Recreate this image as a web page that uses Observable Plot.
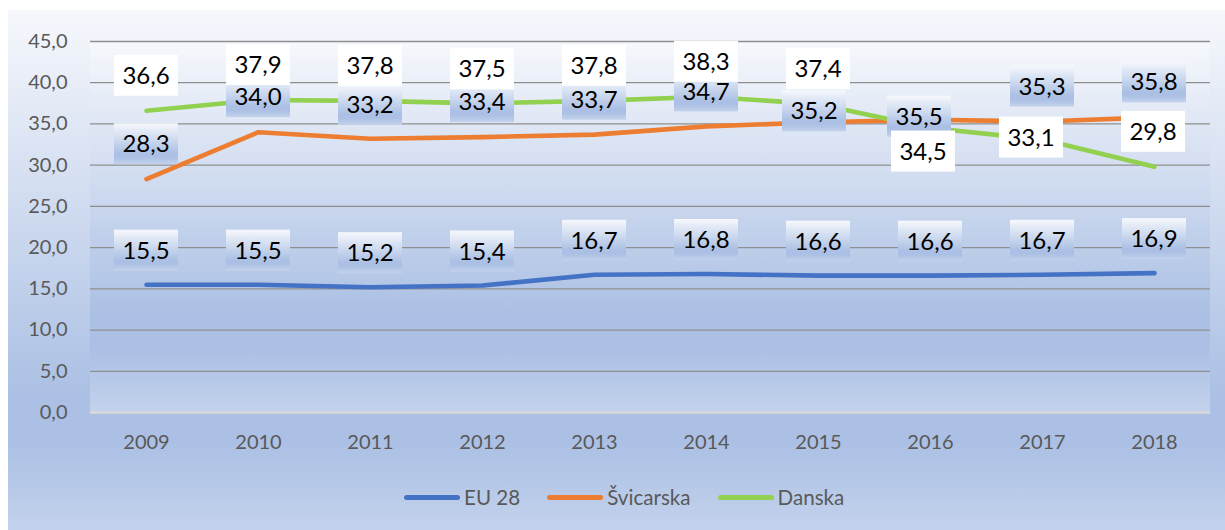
<!DOCTYPE html>
<html><head><meta charset="utf-8">
<script src="https://cdn.jsdelivr.net/npm/d3@7"></script>
<script src="https://cdn.jsdelivr.net/npm/@observablehq/plot@0.6"></script>
<style>
body{margin:0;background:#fff;}
#wrap{position:relative;width:1225px;height:530px;overflow:hidden;font-family:Lato,sans-serif;}
#bg{position:absolute;left:8px;top:10px;width:1217px;height:520px;background:linear-gradient(to bottom,#f6f8fc 0%,#abc0e4 74%,#abc0e4 83%,#c3d2ec 100%);}
#chart{position:absolute;left:0;top:0;}
#legend{position:absolute;top:484px;left:404px;height:26px;display:flex;align-items:center;font-size:20.6px;color:#595959;white-space:nowrap;}
.item{display:flex;align-items:center;margin-right:27px}
.sw{width:56px;height:5px;border-radius:3px;margin-right:4px}
</style></head>
<body><div id="wrap"><div id="bg"></div><div id="chart"></div><div id="legend"></div></div>
<script>
// ---- data ----
const years = ["2009","2010","2011","2012","2013","2014","2015","2016","2017","2018"];
const eu28 = [15.5,15.5,15.2,15.4,16.7,16.8,16.6,16.6,16.7,16.9];
const svicarska = [28.3,34.0,33.2,33.4,33.7,34.7,35.2,35.5,35.3,35.8];
const danska = [36.6,37.9,37.8,37.5,37.8,38.3,37.4,34.5,33.1,29.8];
const seriesNames = ["EU 28","Švicarska","Danska"];
const yTicks = [0,5,10,15,20,25,30,35,40,45];

// ---- label placement (pixel offsets from the point) ----
const euLabelOffsets = years.map(() => [0,-34]);
const svLabelOffsets = [[0,-35],[0,-35],[0,-34],[0,-35],[0,-35],[0,-35],[-4,-11],[-11,-3],[0,-35],[0,-35]];
const dkLabelOffsets = [[0,-35],[0,-35],[0,-35],[0,-34],[0,-35],[0,-35],[0,-35],[-7,23.5],[-11,-2],[-1,-35]];

const fmt = d => d.toFixed(1).replace(".", ",");
const stops = [[0,"#f6f8fc"],[0.74,"#abc0e4"],[0.83,"#abc0e4"],[1,"#c3d2ec"]];

const series = [
  {name: seriesNames[0], values: eu28, color: "#4472C4", box: "url(#boxGrad)", offsets: euLabelOffsets},
  {name: seriesNames[1], values: svicarska, color: "#ED7D31", box: "url(#boxGrad)", offsets: svLabelOffsets},
  {name: seriesNames[2], values: danska, color: "#92D050", box: "#ffffff", offsets: dkLabelOffsets}
];

const rows = [];
series.forEach(s => s.values.forEach((v, i) => rows.push({year: years[i], value: v, series: s.name})));

function plotBackground(index, scales, values, dims) {
  const g = d3.create("svg:g");
  const defs = g.append("defs");
  for (const id of ["areaGrad","boxGrad"]) {
    const lg = defs.append("linearGradient").attr("id", id).attr("x1",0).attr("y1",0).attr("x2",0).attr("y2",1);
    stops.forEach(([o,c]) => lg.append("stop").attr("offset", o).attr("stop-color", c));
  }
  g.append("rect")
    .attr("x", dims.marginLeft).attr("y", dims.marginTop)
    .attr("width", dims.width - dims.marginLeft - dims.marginRight)
    .attr("height", dims.height - dims.marginTop - dims.marginBottom)
    .attr("fill", "url(#areaGrad)");
  return g.node();
}

function labelMark(s) {
  return (index, scales) => {
    const g = d3.create("svg:g");
    s.values.forEach((v, i) => {
      const [dx, dy] = s.offsets[i];
      const cx = scales.x(years[i]) + dx, cy = scales.y(v) + dy;
      g.append("rect").attr("x", cx - 32).attr("y", cy - 20.5).attr("width", 64).attr("height", 41).attr("fill", s.box);
      g.append("text").attr("x", cx).attr("y", cy).attr("dy", "0.36em")
        .attr("text-anchor", "middle").attr("font-size", 24).attr("fill", "#000").text(fmt(v));
    });
    return g.node();
  };
}

const plot = Plot.plot({
  width: 1225, height: 460,
  marginLeft: 90, marginRight: 15, marginTop: 41, marginBottom: 48,
  style: {background: "transparent", fontFamily: "Lato, sans-serif", color: "#595959", overflow: "visible"},
  x: {type: "point", domain: years, padding: 0.5, align: 0.5},
  y: {domain: [0, 45]},
  marks: [
    plotBackground,
    Plot.ruleY(yTicks.filter(d => d > 0), {stroke: "#8f8f8f", strokeWidth: 1.3}),
    Plot.ruleY([0], {stroke: "#d9d9d9", strokeWidth: 2.5}),
    Plot.axisY({ticks: yTicks, tickSize: 0, tickPadding: 23, fontSize: 20, tickFormat: fmt, label: null}),
    Plot.axisX({tickSize: 0, tickPadding: 22, fontSize: 20, label: null}),
    ...series.map(s => Plot.lineY(rows.filter(r => r.series === s.name), {
      x: "year", y: "value", stroke: s.color, strokeWidth: 4.6,
      strokeLinecap: "round", strokeLinejoin: "round", curve: "linear"
    })),
    ...series.map(s => labelMark(s))
  ]
});
document.getElementById("chart").appendChild(plot);

const legend = document.getElementById("legend");
series.forEach(s => {
  const it = document.createElement("div"); it.className = "item";
  const sw = document.createElement("div"); sw.className = "sw"; sw.style.background = s.color;
  const tx = document.createElement("span"); tx.textContent = s.name;
  it.appendChild(sw); it.appendChild(tx); legend.appendChild(it);
});
</script>
</body></html>
